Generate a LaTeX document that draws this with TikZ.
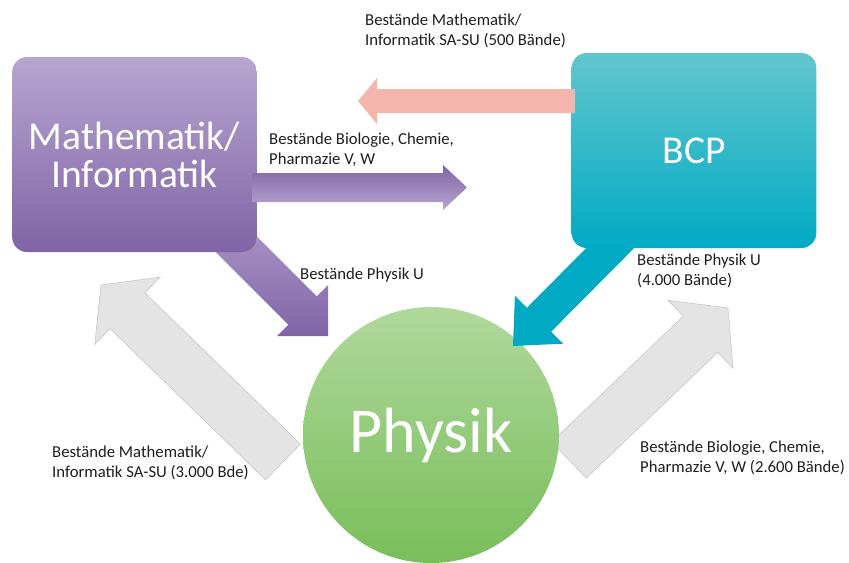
\documentclass[tikz,border=0pt]{standalone}
\usepackage{fontspec}
\setmainfont{Carlito}
\usepackage{tikz}
\usetikzlibrary{calc}

\definecolor{mathtop}{RGB}{182,166,208}
\definecolor{mathbottom}{RGB}{128,100,166}
\definecolor{bcptop}{RGB}{98,198,205}
\definecolor{bcpbottom}{RGB}{0,170,196}
\definecolor{phystop}{RGB}{176,216,156}
\definecolor{physbottom}{RGB}{120,190,90}
\definecolor{pinkarrow}{RGB}{244,182,172}
\definecolor{greyfill}{RGB}{228,228,228}
\definecolor{greyline}{RGB}{198,198,198}
\definecolor{labeltext}{RGB}{30,30,30}

% block arrow: style, from, to, shaft half width, head half width, head length (px)
\newcommand{\blockarrow}[6]{%
  \coordinate (ba-b) at ($(#3)!#6*0.3mm!(#2)$);
  \path[#1] ($(#2)!#4*0.3mm!90:(#3)$) -- ($(ba-b)!#4*0.3mm!90:(#3)$)
    -- ($(ba-b)!#5*0.3mm!90:(#3)$) -- (#3)
    -- ($(ba-b)!#5*0.3mm!-90:(#3)$) -- ($(ba-b)!#4*0.3mm!-90:(#3)$)
    -- ($(#2)!#4*0.3mm!-90:(#3)$) -- cycle;
}

\begin{document}
\begin{tikzpicture}[x=0.3mm, y=-0.3mm,
        subject/.style={rectangle, rounded corners=4.5mm, minimum width=73.4mm, minimum height=58.5mm, inner sep=0pt, align=center, text=white, font=\fontsize{33.7}{32.4}\selectfont},
        flowtext/.style={anchor=north west, inner sep=0pt, align=left, text=labeltext, font=\fontsize{14.25}{17.07}\selectfont},
        greyarrow/.style={fill=greyfill, draw=greyline, line width=0.5pt}
    ]
        \useasboundingbox (0,0) rectangle (849,562);

        % arrow ends
        \coordinate (greyLstart) at (283,462);
        \coordinate (greyLtip) at (101,285);
        \coordinate (greyRstart) at (569,460);
        \coordinate (greyRtip) at (728,308);
        \coordinate (physUstart) at (215,223);
        \coordinate (physUtip) at (328,336);
        \coordinate (bcpUstart) at (640,218);
        \coordinate (bcpUtip) at (513,346);
        \coordinate (bioStart) at (252,187.5);
        \coordinate (bioTip) at (467,187.5);
        \coordinate (mathStart) at (575,101);
        \coordinate (mathTip) at (358,101);

        % Physik <-> outside
        \blockarrow{greyarrow}{greyLstart}{greyLtip}{25}{47}{37}
        \blockarrow{greyarrow}{greyRstart}{greyRtip}{25}{47}{38}

        \node[circle, minimum size=76.8mm, inner sep=0pt, top color=phystop, bottom color=physbottom, text=white, font=\fontsize{54.6}{54.6}\selectfont] (physik) at (431,435) {Physik};

        % into Physik
        \blockarrow{top color=mathtop!85!mathbottom, bottom color=mathbottom}{physUstart}{physUtip}{20}{36}{36}
        \blockarrow{fill=bcpbottom}{bcpUstart}{bcpUtip}{17}{34}{37}

        % Subjects
        \node[subject, top color=mathtop, bottom color=mathbottom] (mathinf) at (134.5,154.5) {Mathematik/\\Informatik};
        \node[subject, top color=bcptop, bottom color=bcpbottom] (bcp) at (694,150.5) {BCP};

        % between the subjects
        \blockarrow{fill=pinkarrow}{mathStart}{mathTip}{12}{23}{19}
        \blockarrow{top color=mathbottom, bottom color=mathtop}{bioStart}{bioTip}{14.5}{22.5}{24}

        % Labels
        \node[flowtext] (lblmath) at (365,14) {Bestände Mathematik/\\Informatik SA-SU (500 Bände)};
        \node[flowtext] (lblbio) at (269,133) {Bestände Biologie, Chemie,\\Pharmazie V, W};
        \node[flowtext] (lblphys) at (300,268) {Bestände Physik U};
        \node[flowtext] (lblphysbcp) at (637,254) {Bestände Physik U\\(4.000 Bände)};
        \node[flowtext] (lblmathout) at (52,446) {Bestände Mathematik/\\Informatik SA-SU (3.000 Bde)};
        \node[flowtext] (lblbioout) at (640,441) {Bestände Biologie, Chemie,\\Pharmazie V, W (2.600 Bände)};

    \end{tikzpicture}
\end{document}
